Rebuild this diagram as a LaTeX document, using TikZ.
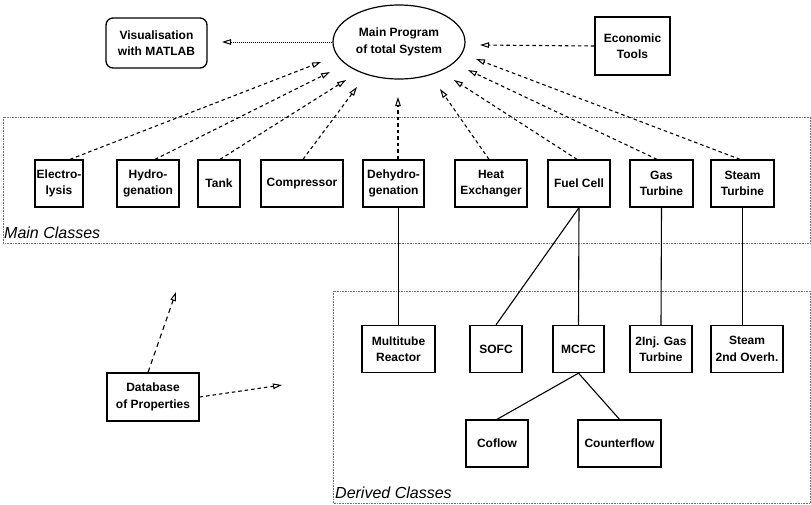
\documentclass[tikz,border=0pt]{standalone}
\usepackage{fontspec}
\setmainfont{Liberation Sans}
\usetikzlibrary{arrows.meta,shapes.geometric}
\begin{document}
\begin{tikzpicture}[x=1pt,y=-1pt,
  box/.style={draw,line width=1.3pt,font=\bfseries\fontsize{12}{16.5}\selectfont,align=center,inner sep=0pt,minimum height=47},
  areabox/.style={draw=black!55,line width=0.6pt,dash pattern=on 0.8pt off 0.8pt},
  arealabel/.style={font=\itshape\fontsize{16}{18}\selectfont,anchor=west,inner sep=0pt},
  ahead/.style={-{Triangle[open,length=9pt,width=5.5pt,line width=1pt]}},
  dasharrow/.style={ahead,line width=1.1pt,dash pattern=on 3.5pt off 3pt},
  longdash/.style={ahead,line width=1.1pt,dash pattern=on 5pt off 4pt},
  dotarrow/.style={ahead,line width=0.9pt,dash pattern=on 1pt off 1pt},
  solidline/.style={line width=1.1pt}]
\useasboundingbox (0,0) rectangle (811,504);
% areas
\draw[areabox] (3,117) rectangle (810.5,243);
\draw[areabox] (333,291) rectangle (810.5,503);
\node[arealabel] (mainlbl) at (4,233) {Main Classes};
\node[arealabel] (derlbl) at (335,493) {Derived Classes};
% top
\node[box,rounded corners=7pt,minimum width=101,minimum height=50] (vis) at (156.5,43) {Visualisation\\with MATLAB};
\node[box,ellipse,line width=1.2pt,minimum width=132,minimum height=74] (ell) at (399,42) {Main Program\\of total System};
\node[box,minimum width=75,minimum height=58] (eco) at (632.5,46) {Economic\\Tools};
% main classes
\node[box,minimum width=48] (el) at (59,183.5) {Electro-\\lysis};
\node[box,minimum width=62] (hy) at (148,183.5) {Hydro-\\genation};
\node[box,minimum width=42] (ta) at (219,183.5) {Tank};
\node[box,minimum width=82] (co) at (302,183.5) {Compressor};
\node[box,minimum width=61] (de) at (393.5,183.5) {Dehydro-\\genation};
\node[box,minimum width=72] (he) at (491,183.5) {Heat\\Exchanger};
\node[box,minimum width=62] (fc) at (579,183.5) {Fuel Cell};
\node[box,minimum width=63] (gt) at (661.5,183.5) {Gas\\Turbine};
\node[box,minimum width=63] (st) at (742.5,183.5) {Steam\\Turbine};
% derived classes
\node[box,minimum width=73] (mt) at (398.5,349) {Multitube\\Reactor};
\node[box,minimum width=52] (sofc) at (496,349) {SOFC};
\node[box,minimum width=51] (mcfc) at (578.5,349) {MCFC};
\node[box,minimum width=62] (gi) at (661,349) {2Inj. Gas\\Turbine};
\node[box,minimum width=72] (s2) at (747,349) {Steam\\2nd Overh.};
\node[box,minimum width=62] (cof) at (497,443.5) {Coflow};
\node[box,minimum width=83] (cf) at (619.5,443.5) {Counterflow};
\node[box,minimum width=92,minimum height=48] (db) at (153,397) {Database\\of Properties};
% arrow tips
\coordinate (t1) at (321,62);
\coordinate (t2) at (330,72);
\coordinate (t3) at (346,80);
\coordinate (t4) at (357,87);
\coordinate (t5) at (398,97);
\coordinate (t6) at (440,89);
\coordinate (t7) at (454,80);
\coordinate (t8) at (468,70);
\coordinate (t9) at (476,59);
\coordinate (te) at (480,45);
\coordinate (tv) at (222,42);
\coordinate (tdb1) at (176,292);
\coordinate (tdb2) at (282,385);
% arrows to main program
\draw[dasharrow] ([xshift=11pt]el.north) -- (t1);
\draw[dasharrow] ([xshift=7pt]hy.north) -- (t2);
\draw[dasharrow] ([xshift=1pt]ta.north) -- (t3);
\draw[dasharrow] ([xshift=1pt]co.north) -- (t4);
\draw[dasharrow] ([xshift=4.5pt]de.north) -- (t5);
\draw[dasharrow] ([xshift=-2pt]he.north) -- (t6);
\draw[dasharrow] ([xshift=-2pt]fc.north) -- (t7);
\draw[dasharrow] ([xshift=-4.5pt]gt.north) -- (t8);
\draw[dasharrow] ([xshift=-2.5pt]st.north) -- (t9);
\draw[dasharrow] (eco.west) -- (te);
\draw[dotarrow] (ell.west) -- (tv);
% database arrows
\draw[longdash] ([xshift=-5pt]db.north) -- (tdb1);
\draw[dasharrow] (db.east) -- (tdb2);
% inheritance lines
\draw[solidline] (mt.north) -- (mt.north |- de.south);
\draw[solidline] (fc.south) -- (mcfc.north);
\draw[solidline] (fc.south) -- (sofc.north);
\draw[solidline] (gt.south) -- (gi.north);
\draw[solidline] (st.south) -- (st.south |- s2.north);
\draw[solidline] (mcfc.south) -- (cof.north);
\draw[solidline] (mcfc.south) -- (cf.north);
\end{tikzpicture}
\end{document}
